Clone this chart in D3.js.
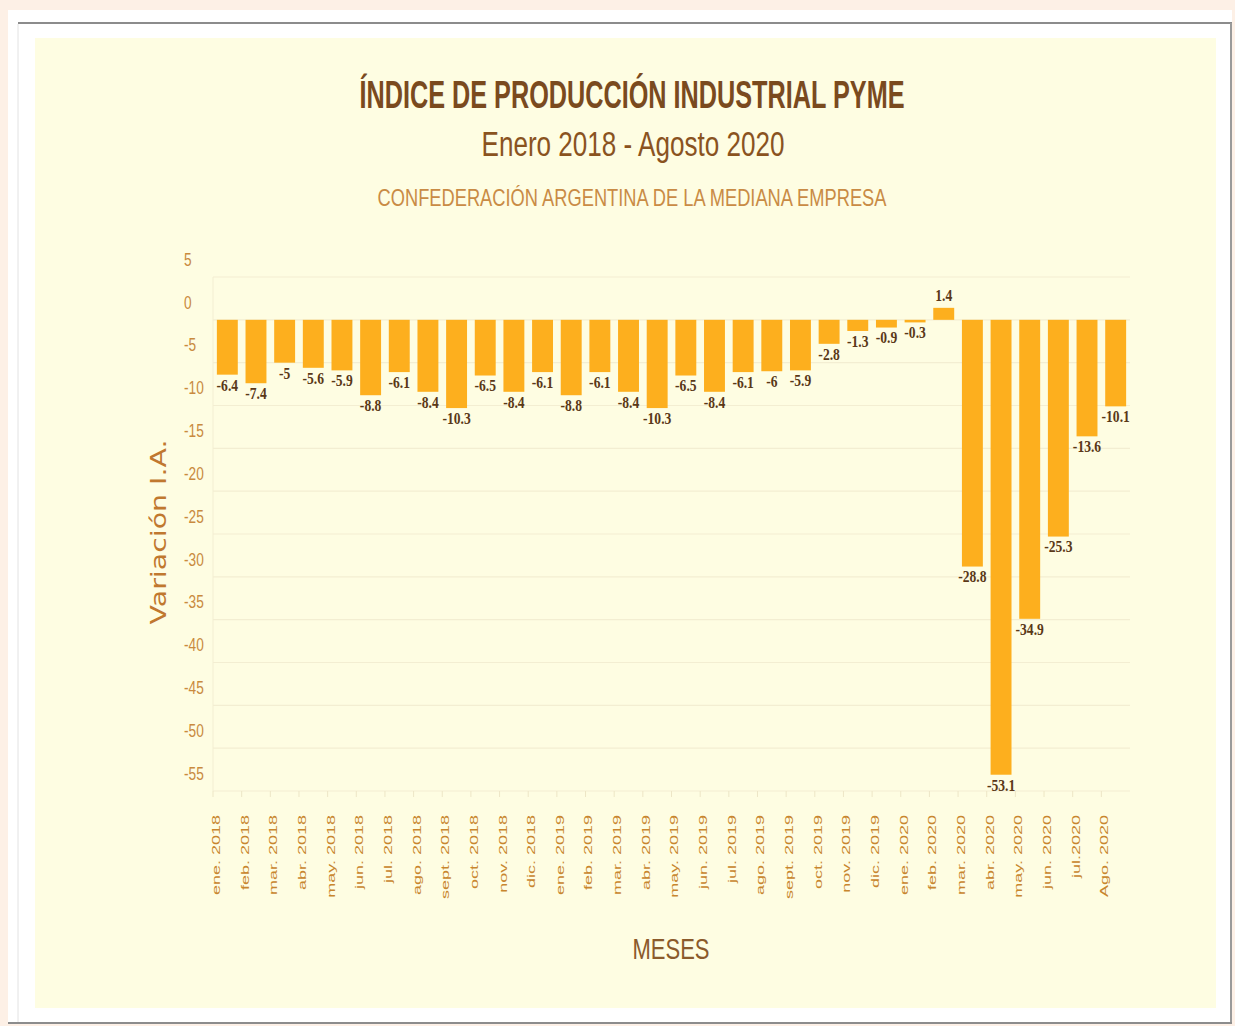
<!DOCTYPE html>
<html><head><meta charset="utf-8">
<script src="https://cdn.jsdelivr.net/npm/d3@7"></script>
<style>body{margin:0;background:#FDF0E6;overflow:hidden} svg{display:block}</style>
</head><body><svg id="c" width="1235" height="1026"></svg>
<script>
const months = ["ene. 2018","feb. 2018","mar. 2018","abr. 2018","may. 2018","jun. 2018","jul. 2018","ago. 2018","sept. 2018","oct. 2018","nov. 2018","dic. 2018",
"ene. 2019","feb. 2019","mar. 2019","abr. 2019","may. 2019","jun. 2019","jul. 2019","ago. 2019","sept. 2019","oct. 2019","nov. 2019","dic. 2019",
"ene. 2020","feb. 2020","mar. 2020","abr. 2020","may. 2020","jun. 2020","jul.2020","Ago. 2020"];
const values = [-6.4,-7.4,-5,-5.6,-5.9,-8.8,-6.1,-8.4,-10.3,-6.5,-8.4,-6.1,
-8.8,-6.1,-8.4,-10.3,-6.5,-8.4,-6.1,-6,-5.9,-2.8,-1.3,-0.9,
-0.3,1.4,-28.8,-53.1,-34.9,-25.3,-13.6,-10.1];
const yTicks = [5,0,-5,-10,-15,-20,-25,-30,-35,-40,-45,-50,-55];
const title = "ÍNDICE DE PRODUCCIÓN INDUSTRIAL PYME";
const subtitle = "Enero 2018 - Agosto 2020";
const source = "CONFEDERACIÓN ARGENTINA DE LA MEDIANA EMPRESA";
const yTitle = "Variación I.A.";
const xTitle = "MESES";

const svg = d3.select("#c");
const W = 1235, H = 1026;

// frame
svg.append("rect").attr("x",0).attr("y",0).attr("width",W).attr("height",H).attr("fill","#FDF0E6");
svg.append("rect").attr("x",8).attr("y",10).attr("width",1224).attr("height",1014).attr("fill","#FFFFFF");
svg.append("line").attr("x1",18).attr("x2",1232).attr("y1",23).attr("y2",23).attr("stroke","#8c8c8c").attr("stroke-width",2);
svg.append("line").attr("x1",1231).attr("x2",1231).attr("y1",23).attr("y2",1024).attr("stroke","#9a9a9a").attr("stroke-width",2);
svg.append("line").attr("x1",8).attr("x2",1232).attr("y1",1023).attr("y2",1023).attr("stroke","#8c8c8c").attr("stroke-width",2);
svg.append("line").attr("x1",18).attr("x2",18).attr("y1",24).attr("y2",1022).attr("stroke","#e2e2e2").attr("stroke-width",1);
svg.append("rect").attr("x",35).attr("y",38).attr("width",1181).attr("height",970).attr("fill","#FEFDE2");

// titles
svg.append("text").attr("x",632).attr("y",108).attr("text-anchor","middle")
  .attr("font-family","Liberation Sans, Arial, sans-serif").attr("font-weight","bold").attr("font-size",39)
  .attr("fill","#7A4A1E").attr("textLength",545).attr("lengthAdjust","spacingAndGlyphs").text(title);
svg.append("text").attr("x",633).attr("y",156).attr("text-anchor","middle")
  .attr("font-family","Liberation Sans, Arial, sans-serif").attr("font-size",35)
  .attr("fill","#8A531F").attr("textLength",303).attr("lengthAdjust","spacingAndGlyphs").text(subtitle);
svg.append("text").attr("x",632).attr("y",206).attr("text-anchor","middle")
  .attr("font-family","Liberation Sans, Arial, sans-serif").attr("font-size",24)
  .attr("fill","#C98B45").attr("textLength",509).attr("lengthAdjust","spacingAndGlyphs").text(source);

// scales
const x = d3.scaleBand().domain(months).range([213,1130]).paddingInner(0.27).paddingOuter(0.135);
const y = d3.scaleLinear().domain([5,-55]).range([277,791]);

// gridlines
svg.append("g").selectAll("line").data(yTicks).join("line")
  .attr("x1",213).attr("x2",1130).attr("y1",d=>y(d)).attr("y2",d=>y(d))
  .attr("stroke","#F3EED2").attr("stroke-width",1.2);
svg.append("line").attr("x1",213).attr("x2",213).attr("y1",y(5)).attr("y2",y(-55)).attr("stroke","#F3EED2");
// category ticks at bottom
svg.append("g").selectAll("line").data(months).join("line")
  .attr("x1",d=>x(d)-x.step()*x.paddingInner()/2).attr("x2",d=>x(d)-x.step()*x.paddingInner()/2)
  .attr("y1",y(-55)).attr("y2",y(-55)+6).attr("stroke","#EDE6C6");

// y tick labels
svg.append("g").selectAll("text").data(yTicks).join("text")
  .attr("transform",d=>`translate(184,${y(d)-16}) scale(0.76,1)`)
  .attr("dominant-baseline","middle").attr("font-family","Liberation Sans, Arial, sans-serif")
  .attr("font-size",18).attr("fill","#C98A3E").text(d=>d);

// bars
svg.append("g").selectAll("rect").data(values).join("rect")
  .attr("x",(d,i)=>x(months[i])).attr("width",x.bandwidth())
  .attr("y",d=>Math.min(y(d),y(0))).attr("height",d=>Math.abs(y(d)-y(0)))
  .attr("fill","#FDAF1E");

// bar labels
svg.append("g").selectAll("text").data(values).join("text")
  .attr("transform",(d,i)=>`translate(${x(months[i])+x.bandwidth()/2},${d<0? y(d)+12 : y(d)-11}) scale(0.8,1)`)
  .attr("text-anchor","middle").attr("dominant-baseline","middle")
  .attr("font-family","Liberation Serif, Times New Roman, serif").attr("font-weight","bold")
  .attr("font-size",17).attr("fill","#5A3817").text(d=>String(d));

// x tick labels
svg.append("g").selectAll("text").data(months).join("text")
  .attr("transform",d=>`translate(${x(d)+x.bandwidth()/2-10},815) rotate(-90) scale(1.8,1)`)
  .attr("text-anchor","end").attr("dominant-baseline","middle")
  .attr("font-family","Liberation Sans, Arial, sans-serif").attr("font-size",10)
  .attr("fill","#C8862E").text(d=>d);

// axis titles
svg.append("text").attr("transform","translate(166,532) rotate(-90)").attr("text-anchor","middle")
  .attr("font-family","DejaVu Sans, sans-serif").attr("font-size",21)
  .attr("fill","#C0782F").attr("textLength",185).attr("lengthAdjust","spacingAndGlyphs").text(yTitle);
svg.append("text").attr("x",671).attr("y",959).attr("text-anchor","middle")
  .attr("font-family","Liberation Sans, Arial, sans-serif").attr("font-size",30)
  .attr("fill","#8B5A2B").attr("textLength",77).attr("lengthAdjust","spacingAndGlyphs").text(xTitle);
</script></body></html>
